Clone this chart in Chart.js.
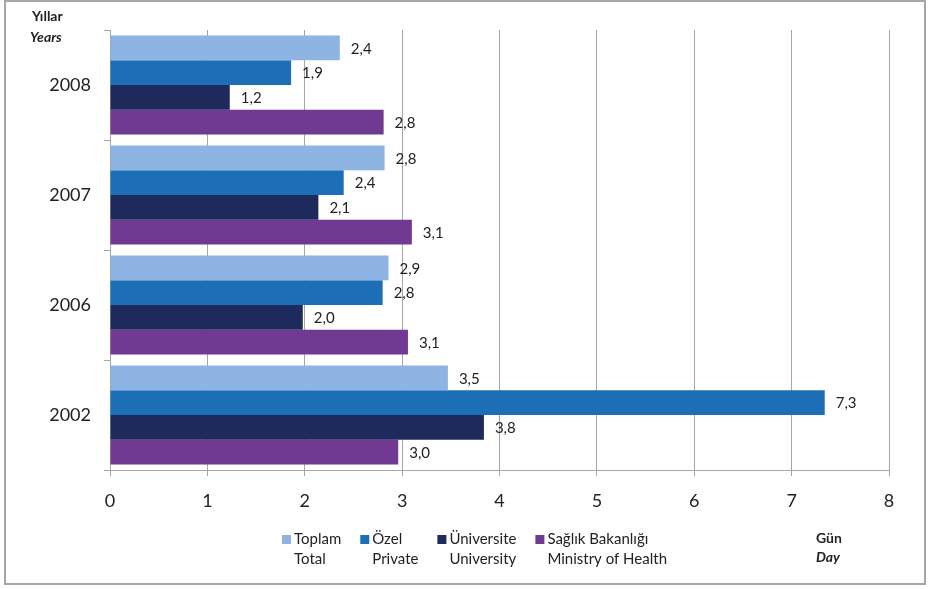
<!DOCTYPE html>
<html lang="tr">
<head>
<meta charset="UTF-8">
<title>Ortalama yatış süresi</title>
<script src="https://cdn.jsdelivr.net/npm/chart.js"></script>
<style>
  html,body{margin:0;padding:0;background:#fff;}
  #frame{position:absolute;left:4px;top:0;width:922px;height:585px;box-sizing:border-box;border:2px solid #a6a6a6;}
  #chart{display:block}
</style>
</head>
<body>
<div id="frame"><canvas id="chart" width="918" height="581"></canvas></div>

<script>
/* ---------- data ---------- */
const years    = ['2008','2007','2006','2002'];
const seriesTr = ['Toplam','Özel','Üniversite','Sağlık Bakanlığı'];
const seriesEn = ['Total','Private','University','Ministry of Health'];
const colors   = ['#8db4e2','#1c6fb7','#1f2a5c','#713a92'];
const total    = [2.36, 2.82, 2.86, 3.47];
const priv     = [1.86, 2.40, 2.80, 7.34];
const univ     = [1.23, 2.14, 1.98, 3.84];
const ministry = [2.81, 3.10, 3.06, 2.96];
const xMin = 0, xMax = 8;

const FONT = "Lato, 'Open Sans', sans-serif";
const TEXT = '#222222';

/* ---------- value labels at bar ends ---------- */
const valueLabels = {
  id:'valueLabels',
  afterDatasetsDraw(chart){
    const ctx = chart.ctx;
    ctx.save();
    ctx.font = `15px ${FONT}`;
    ctx.fillStyle = TEXT;
    ctx.textBaseline = 'middle';
    ctx.textAlign = 'left';
    chart.data.datasets.forEach((ds,i)=>{
      chart.getDatasetMeta(i).data.forEach((bar,j)=>{
        const txt = ds.data[j].toFixed(1).replace('.',',');
        ctx.fillText(txt, bar.x + 11, bar.y + 1);
      });
    });
    ctx.restore();
  }
};

/* ---------- axis captions + two-line legend ---------- */
const decorations = {
  id:'decorations',
  afterDraw(chart){
    const ctx = chart.ctx;
    ctx.save();
    ctx.fillStyle = TEXT;
    ctx.textBaseline = 'middle';
    ctx.textAlign = 'left';

    ctx.font = `bold 14px ${FONT}`;
    ctx.fillText('Yıllar', 26, 14);
    ctx.font = `italic bold 14px ${FONT}`;
    ctx.fillText('Years', 24, 35);

    ctx.font = `bold 14px ${FONT}`;
    ctx.fillText('Gün', 810, 536);
    ctx.font = `italic bold 14px ${FONT}`;
    ctx.fillText('Day', 810, 555);

    // legend
    ctx.font = `15px ${FONT}`;
    let x = 276;
    const y1 = 537, y2 = 557;
    chart.data.datasets.forEach((ds,i)=>{
      ctx.fillStyle = ds.backgroundColor;
      ctx.fillRect(x, y1 - 4, 9, 9);
      ctx.fillStyle = TEXT;
      const tx = x + 12;
      ctx.fillText(seriesTr[i], tx, y1);
      ctx.fillText(seriesEn[i], tx, y2);
      const w = Math.max(ctx.measureText(seriesTr[i]).width, ctx.measureText(seriesEn[i]).width);
      x = tx + w + 19;
    });
    ctx.restore();
  }
};

/* ---------- chart ---------- */
const gridColor = '#a6a6a6';
new Chart(document.getElementById('chart'),{
  type:'bar',
  data:{
    labels:years,
    datasets:[total,priv,univ,ministry].map((d,i)=>({
      label:seriesTr[i],
      data:d,
      backgroundColor:colors[i],
      borderWidth:0,
      categoryPercentage:0.9,
      barPercentage:1
    }))
  },
  options:{
    indexAxis:'y',
    responsive:false,
    animation:false,
    layout:{padding:{top:28,right:35,bottom:63,left:0}},
    plugins:{legend:{display:false},tooltip:{enabled:false}},
    scales:{
      x:{
        min:xMin,max:xMax,
        ticks:{stepSize:1,color:TEXT,font:{family:FONT,size:18},padding:14},
        grid:{color:gridColor,lineWidth:1,tickLength:6,drawTicks:true},
        border:{color:gridColor,width:1},
        afterFit(s){ s.height = 50; }
      },
      y:{
        offset:true,
        ticks:{color:TEXT,font:{family:FONT,size:18},padding:13},
        grid:{offset:true,drawOnChartArea:false,color:gridColor,tickLength:6},
        border:{color:gridColor,width:1},
        afterFit(s){ s.width = 104; }
      }
    }
  },
  plugins:[valueLabels,decorations]
});
</script>
</body>
</html>
